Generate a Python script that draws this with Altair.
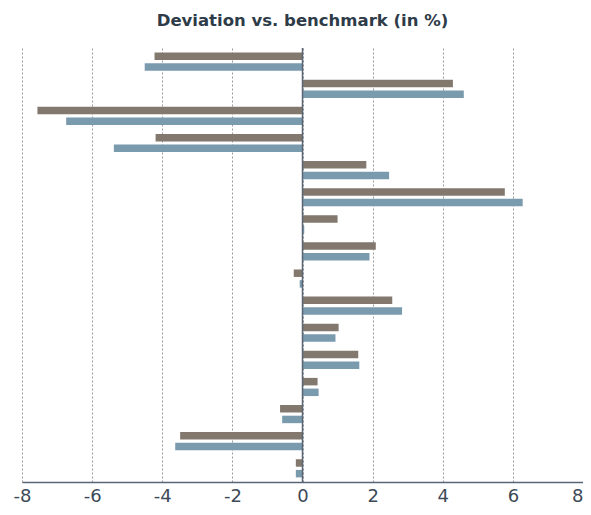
import altair as alt
import pandas as pd

categories = [f"C{i:02d}" for i in range(1, 17)]
series_a = [-4.22, 4.29, -7.56, -4.19, 1.82, 5.77, 1.00, 2.09, -0.25, 2.56, 1.03, 1.59, 0.43, -0.64, -3.49, -0.19]
series_b = [-4.50, 4.60, -6.74, -5.38, 2.47, 6.28, 0.05, 1.91, -0.08, 2.84, 0.94, 1.62, 0.46, -0.58, -3.63, -0.19]
series_names = ["Portfolio", "Benchmark"]
colors = ["#82786e", "#7a9aae"]
x_ticks = [-8, -6, -4, -2, 0, 2, 4, 6, 8]

rows = []
for c, a, b in zip(categories, series_a, series_b):
    rows.append({"cat": c, "series": series_names[0], "value": a})
    rows.append({"cat": c, "series": series_names[1], "value": b})
df = pd.DataFrame(rows)

bars = alt.Chart(df).mark_bar().encode(
    x=alt.X("value:Q", scale=alt.Scale(domain=[-8, 8], nice=False),
            axis=alt.Axis(values=x_ticks, title=None, grid=True, gridDash=[2, 2],
                          gridColor="#9a9a9a", gridWidth=1, tickSize=0, labelPadding=5,
                          labelFontSize=18, labelColor="#3d4a57", labelFont="DejaVu Sans",
                          labelExpr="'' + datum.value",
                          labelAlign=alt.ExprRef(expr="datum.value == 8 ? 'right' : 'center'"),
                          domainColor="#5a6673", domainWidth=1.5)),
    y=alt.Y("cat:N", sort=categories,
            scale=alt.Scale(paddingInner=0.33, paddingOuter=0.17),
            axis=None),
    yOffset=alt.YOffset("series:N", sort=series_names,
                        scale=alt.Scale(paddingInner=0.3)),
    color=alt.Color("series:N", scale=alt.Scale(domain=series_names, range=colors), legend=None),
)

zero = alt.Chart(pd.DataFrame({"x": [0]})).mark_rule(color="#5a6673", strokeWidth=1.5).encode(x="x:Q")

chart = alt.layer(bars, zero).properties(
    width=561, height=434,
    title=alt.TitleParams("Deviation vs. benchmark (in %)", fontSize=16.5, fontWeight="bold",
                          color="#2e3b48", font="DejaVu Sans", offset=18),
    autosize=alt.AutoSizeParams(type="none"),
    padding={"left": 14, "top": 40, "right": 0, "bottom": 25},
).configure_view(stroke=None)

chart.save("out.html", embed_options={"renderer": "svg", "actions": False})
